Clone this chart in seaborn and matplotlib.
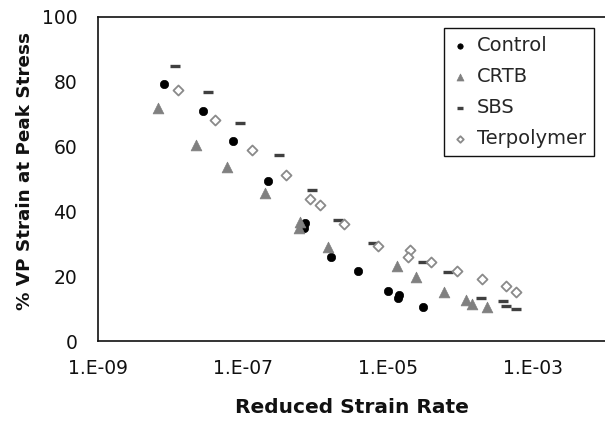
import matplotlib
matplotlib.use("Agg")
import matplotlib.pyplot as plt
import seaborn as sns
import pandas as pd
from matplotlib.ticker import FixedLocator, FixedFormatter, NullLocator

# ---- data ----
control_x = [8.22e-9, 2.78e-8, 7.35e-8, 2.21e-7, 7.10e-7, 6.85e-7, 1.62e-6,
             3.78e-6, 9.77e-6, 1.39e-5, 1.36e-5, 2.98e-5]
control_y = [79.2, 70.9, 61.7, 49.4, 36.5, 34.7, 25.9, 21.6, 15.4, 14.3, 13.4, 10.6]

crtb_x = [6.61e-9, 2.23e-8, 5.96e-8, 2.03e-7, 6.11e-7, 5.92e-7, 1.46e-6,
          1.32e-5, 2.41e-5, 5.92e-5, 1.17e-4, 1.42e-4, 2.26e-4]
crtb_y = [71.7, 60.3, 53.5, 45.6, 36.7, 34.7, 29.0, 23.1, 19.6, 15.1, 12.5, 11.5, 10.5]

sbs_x = [1.16e-8, 3.29e-8, 9.18e-8, 3.10e-7, 8.75e-7, 2.04e-6, 6.08e-6,
         2.98e-5, 6.65e-5, 1.87e-4, 3.80e-4, 4.20e-4, 5.75e-4]
sbs_y = [84.8, 76.9, 67.3, 57.4, 46.7, 37.3, 30.1, 24.5, 21.4, 13.4, 12.3, 10.9, 9.9]

terp_x = [1.27e-8, 4.07e-8, 1.32e-7, 3.92e-7, 8.22e-7, 1.15e-6, 2.42e-6, 7.13e-6,
          1.99e-5, 1.89e-5, 3.87e-5, 8.83e-5, 1.98e-4, 4.15e-4, 5.75e-4]
terp_y = [77.3, 68.3, 58.8, 51.2, 43.8, 41.8, 36.2, 29.4, 28.0, 25.8, 24.3, 21.6,
          19.1, 16.9, 15.2]

x_ticks = [1e-9, 1e-7, 1e-5, 1e-3]
x_tick_labels = ["1.E-09", "1.E-07", "1.E-05", "1.E-03"]
y_ticks = [0, 20, 40, 60, 80, 100]

sns.set_style("white")
plt.rcParams["font.family"] = ["DejaVu Sans"]

fig = plt.figure(figsize=(6.05, 4.23), dpi=100)
W, H = 605, 423
ax = fig.add_axes([98 / W, (H - 341) / H, (606 - 98) / W, (341 - 16.7) / H])

df_c = pd.DataFrame({"x": control_x, "y": control_y})
df_r = pd.DataFrame({"x": crtb_x, "y": crtb_y})
df_s = pd.DataFrame({"x": sbs_x, "y": sbs_y})
df_t = pd.DataFrame({"x": terp_x, "y": terp_y})

sns.scatterplot(data=df_c, x="x", y="y", ax=ax, marker="o", s=36,
                color="black", edgecolor="black", linewidth=0.5, label="Control", zorder=3)
sns.scatterplot(data=df_r, x="x", y="y", ax=ax, marker="^", s=60,
                color="#808080", edgecolor="#808080", linewidth=0.5, label="CRTB", zorder=3)
sns.scatterplot(data=df_s, x="x", y="y", ax=ax, marker="_", s=55,
                color="#404040", linewidth=2.4, label="SBS", zorder=3)
sns.scatterplot(data=df_t, x="x", y="y", ax=ax, marker="D", s=26,
                color="white", edgecolor="#8a8a8a", linewidth=1.3, label="Terpolymer", zorder=3)

ax.set_xscale("log")
ax.set_xlim(1e-9, 1e-2)
ax.set_ylim(0, 100)
ax.xaxis.set_major_locator(FixedLocator(x_ticks))
ax.xaxis.set_major_formatter(FixedFormatter(x_tick_labels))
ax.xaxis.set_minor_locator(NullLocator())
ax.set_yticks(y_ticks)
ax.set_yticklabels([str(v) for v in y_ticks])

ax.tick_params(axis="both", direction="in", length=4, width=0.8, color="#999999",
               labelsize=13.5, labelcolor="#111111")
ax.tick_params(axis="x", pad=13)
ax.tick_params(axis="y", pad=15)

for sp in ax.spines.values():
    sp.set_visible(True)
    sp.set_color("#111111")
    sp.set_linewidth(1.2)

ax.set_xlabel("Reduced Strain Rate", fontsize=14.5, fontweight="bold", color="#111111")
ax.set_ylabel("% VP Strain at Peak Stress", fontsize=13.2, fontweight="bold", color="#111111")
ax.xaxis.set_label_coords(0.5, -0.175)
ax.yaxis.set_label_coords(-0.125, 0.525)

leg = ax.legend(loc="upper left", bbox_to_anchor=(0.681, 0.965), borderaxespad=0,
                fontsize=14, frameon=True, fancybox=False, framealpha=1,
                edgecolor="#111111", markerscale=0.65, handlelength=0.8,
                handletextpad=0.5, borderpad=0.4, labelspacing=0.62)
leg.get_frame().set_linewidth(1.0)

fig.savefig("out.png", dpi=100)
